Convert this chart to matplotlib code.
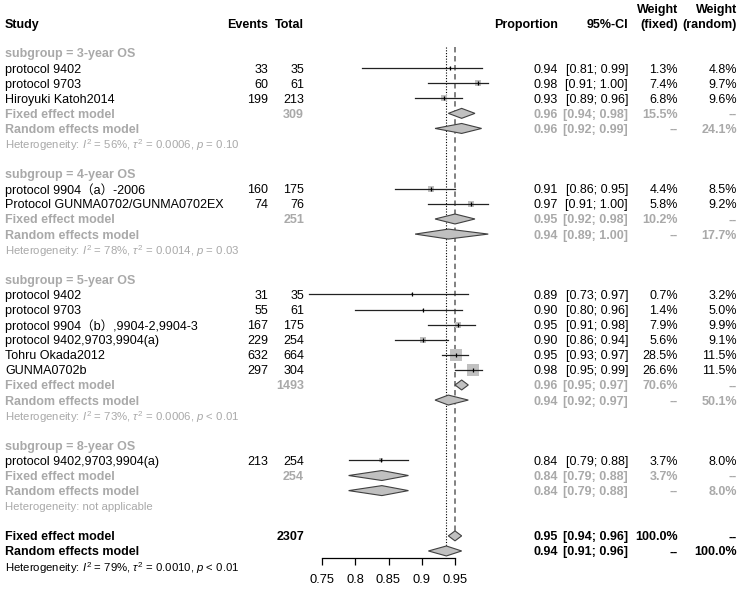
import matplotlib
matplotlib.use('Agg')
import matplotlib.pyplot as plt
from matplotlib.patches import Polygon

plt.rcParams['font.family'] = ['Liberation Sans', 'Noto Sans CJK SC', 'DejaVu Sans']
plt.rcParams['mathtext.fontset'] = 'custom'
plt.rcParams['mathtext.rm'] = 'Liberation Sans'
plt.rcParams['mathtext.it'] = 'Liberation Sans:italic'
plt.rcParams['mathtext.bf'] = 'Liberation Sans:bold'

# ---------------- data ----------------
subgroups = ["3-year OS", "4-year OS", "5-year OS", "8-year OS"]
study_names = ["protocol 9402", "protocol 9703", "Hiroyuki Katoh2014",
               "protocol 9904（a）-2006", "Protocol GUNMA0702/GUNMA0702EX",
               "protocol 9402", "protocol 9703", "protocol 9904（b）,9904-2,9904-3",
               "protocol 9402,9703,9904(a)", "Tohru Okada2012", "GUNMA0702b",
               "protocol 9402,9703,9904(a)"]
study_group = [0, 0, 0, 1, 1, 2, 2, 2, 2, 2, 2, 3]
events = [33, 60, 199, 160, 74, 31, 55, 167, 229, 632, 297, 213]
totals = [35, 61, 213, 175, 76, 35, 61, 175, 254, 664, 304, 254]
prop = [0.943, 0.984, 0.934, 0.914, 0.974, 0.886, 0.902, 0.954, 0.902, 0.952, 0.977, 0.839]
ci_lo = [0.81, 0.91, 0.89, 0.86, 0.91, 0.73, 0.80, 0.91, 0.86, 0.93, 0.95, 0.79]
ci_hi = [0.99, 1.00, 0.96, 0.95, 1.00, 0.97, 0.96, 0.98, 0.94, 0.97, 0.99, 0.88]
w_fixed = [1.3, 7.4, 6.8, 4.4, 5.8, 0.7, 1.4, 7.9, 5.6, 28.5, 26.6, 3.7]
w_random = [4.8, 9.7, 9.6, 8.5, 9.2, 3.2, 5.0, 9.9, 9.1, 11.5, 11.5, 8.0]

sg_total = [309, 251, 1493, 254]
sg_fixed_est = [0.96, 0.95, 0.96, 0.84]
sg_fixed_lo = [0.94, 0.92, 0.95, 0.79]
sg_fixed_hi = [0.98, 0.98, 0.97, 0.88]
sg_fixed_w = [15.5, 10.2, 70.6, 3.7]
sg_random_est = [0.96, 0.94, 0.94, 0.84]
sg_random_lo = [0.92, 0.89, 0.92, 0.79]
sg_random_hi = [0.99, 1.00, 0.97, 0.88]
sg_random_w = [24.1, 17.7, 50.1, 8.0]
sg_het = [r"Heterogeneity: $I^2$ = 56%, $\tau^2$ = 0.0006, $p$ = 0.10",
          r"Heterogeneity: $I^2$ = 78%, $\tau^2$ = 0.0014, $p$ = 0.03",
          r"Heterogeneity: $I^2$ = 73%, $\tau^2$ = 0.0006, $p$ < 0.01",
          "Heterogeneity: not applicable"]

overall_total = 2307
overall_fixed = [0.95, 0.94, 0.96, 100.0]
overall_random = [0.937, 0.91, 0.96, 100.0]
overall_het = r"Heterogeneity: $I^2$ = 79%, $\tau^2$ = 0.0010, $p$ < 0.01"

xticks = [0.75, 0.8, 0.85, 0.9, 0.95]
xticklabels = ["0.75", "0.8", "0.85", "0.9", "0.95"]

# ---------------- layout ----------------
W, H = 743, 589
ROW0, DROW = 53.0, 15.09
AXIS_Y = 557.5
X0PX, PXU = 322.0, 665.0   # pixel of 0.75, pixels per unit

fig = plt.figure(figsize=(W / 100, H / 100), dpi=100)
tax = fig.add_axes([0, 0, 1, 1])
tax.set_xlim(0, W)
tax.set_ylim((H - ROW0) / DROW, -ROW0 / DROW)
tax.axis('off')

fax = fig.add_axes([300 / W, (H - AXIS_Y) / H, 200 / W, AXIS_Y / H])
fax.set_xlim(0.75 - (X0PX - 300) / PXU, 0.75 + (500 - X0PX) / PXU)
fax.set_ylim((AXIS_Y - ROW0) / DROW, -ROW0 / DROW)
fax.patch.set_alpha(0)
for s in ['top', 'left', 'right']:
    fax.spines[s].set_visible(False)
fax.spines['bottom'].set_bounds(0.75, 0.95)
fax.spines['bottom'].set_linewidth(0.9)
fax.set_yticks([])
fax.set_xticks(xticks)
fax.set_xticklabels(xticklabels)
fax.tick_params(axis='x', length=5, width=0.9, pad=7, labelsize=9.3)

GRAY = '#A9A9A9'
FS = 9
FS_HET = 8.2

X_STUDY, X_EV, X_TOT = 5, 268, 304
X_PROP, X_CI, X_WF, X_WR = 558, 628, 678, 737


def put(x, r, s, ha='left', color='black', bold=False, size=FS):
    tax.text(x, r, s, ha=ha, va='center_baseline', color=color,
             fontweight='bold' if bold else 'normal', fontsize=size)


def pct(w):
    return f"{w:.1f}%"


def ci(lo, hi):
    return f"[{lo:.2f}; {hi:.2f}]"


def diamond(est, lo, hi, r, h=0.33):
    fax.add_patch(Polygon([(lo, r), (est, r - h), (hi, r), (est, r + h)],
                          closed=True, facecolor='#C0C0C0', edgecolor='#404040',
                          lw=0.8, zorder=4))


# header
put(X_STUDY, -1.93, "Study", bold=True)
put(X_EV, -1.93, "Events", ha='right', bold=True)
put(X_TOT, -1.93, "Total", ha='right', bold=True)
put(X_PROP, -1.93, "Proportion", ha='right', bold=True)
put(X_CI, -1.93, "95%-CI", ha='right', bold=True)
put(X_WF, -2.95, "Weight", ha='right', bold=True)
put(X_WF, -1.93, "(fixed)", ha='right', bold=True)
put(X_WR, -2.95, "Weight", ha='right', bold=True)
put(X_WR, -1.93, "(random)", ha='right', bold=True)

row = 0
for g, name in enumerate(subgroups):
    put(X_STUDY, row, f"subgroup = {name}", color=GRAY, bold=True)
    row += 1
    for i in range(len(study_names)):
        if study_group[i] != g:
            continue
        put(X_STUDY, row, study_names[i])
        put(X_EV, row, str(events[i]), ha='right')
        put(X_TOT, row, str(totals[i]), ha='right')
        put(X_PROP, row, f"{prop[i]:.2f}", ha='right')
        put(X_CI, row, ci(ci_lo[i], ci_hi[i]), ha='right')
        put(X_WF, row, pct(w_fixed[i]), ha='right')
        put(X_WR, row, pct(w_random[i]), ha='right')
        fax.plot([ci_lo[i], ci_hi[i]], [row, row], color='#222222', lw=0.9,
                 zorder=3, clip_on=False)
        fax.scatter([prop[i]], [row], s=3.0 * w_fixed[i], marker='s',
                    color='#C0C0C0', lw=0, zorder=2, clip_on=False)
        fax.plot([prop[i]], [row], marker='|', ms=3.2, mew=0.9,
                 color='black', zorder=5, clip_on=False)
        row += 1
    # fixed
    put(X_STUDY, row, "Fixed effect model", color=GRAY, bold=True)
    put(X_TOT, row, str(sg_total[g]), ha='right', color=GRAY, bold=True)
    put(X_PROP, row, f"{sg_fixed_est[g]:.2f}", ha='right', color=GRAY, bold=True)
    put(X_CI, row, ci(sg_fixed_lo[g], sg_fixed_hi[g]), ha='right', color=GRAY, bold=True)
    put(X_WF, row, pct(sg_fixed_w[g]), ha='right', color=GRAY, bold=True)
    put(X_WR, row, "--", ha='right', color=GRAY, bold=True)
    diamond(sg_fixed_est[g], sg_fixed_lo[g], sg_fixed_hi[g], row)
    row += 1
    # random
    put(X_STUDY, row, "Random effects model", color=GRAY, bold=True)
    put(X_PROP, row, f"{sg_random_est[g]:.2f}", ha='right', color=GRAY, bold=True)
    put(X_CI, row, ci(sg_random_lo[g], sg_random_hi[g]), ha='right', color=GRAY, bold=True)
    put(X_WF, row, "--", ha='right', color=GRAY, bold=True)
    put(X_WR, row, pct(sg_random_w[g]), ha='right', color=GRAY, bold=True)
    diamond(sg_random_est[g], sg_random_lo[g], sg_random_hi[g], row)
    row += 1
    put(X_STUDY, row, sg_het[g], color=GRAY, size=FS_HET)
    row += 2

# overall
fixed_row = row
put(X_STUDY, row, "Fixed effect model", bold=True)
put(X_TOT, row, str(overall_total), ha='right', bold=True)
put(X_PROP, row, f"{overall_fixed[0]:.2f}", ha='right', bold=True)
put(X_CI, row, ci(overall_fixed[1], overall_fixed[2]), ha='right', bold=True)
put(X_WF, row, pct(overall_fixed[3]), ha='right', bold=True)
put(X_WR, row, "--", ha='right', bold=True)
diamond(overall_fixed[0], overall_fixed[1], overall_fixed[2], row)
row += 1
random_row = row
put(X_STUDY, row, "Random effects model", bold=True)
put(X_PROP, row, f"{overall_random[0]:.2f}", ha='right', bold=True)
put(X_CI, row, ci(overall_random[1], overall_random[2]), ha='right', bold=True)
put(X_WF, row, "--", ha='right', bold=True)
put(X_WR, row, pct(overall_random[3]), ha='right', bold=True)
diamond(overall_random[0], overall_random[1], overall_random[2], row)
row += 1
put(X_STUDY, row, overall_het, size=FS_HET)

# reference lines
fax.plot([overall_random[0]] * 2, [-0.4, random_row - 0.3], color='black',
         lw=0.8, ls=(0, (1, 1.5)), zorder=1)
fax.plot([overall_fixed[0]] * 2, [-0.4, fixed_row - 0.3], color='#777777',
         lw=1.3, ls=(0, (3, 2)), zorder=1)

fig.savefig('out.png', dpi=100)
